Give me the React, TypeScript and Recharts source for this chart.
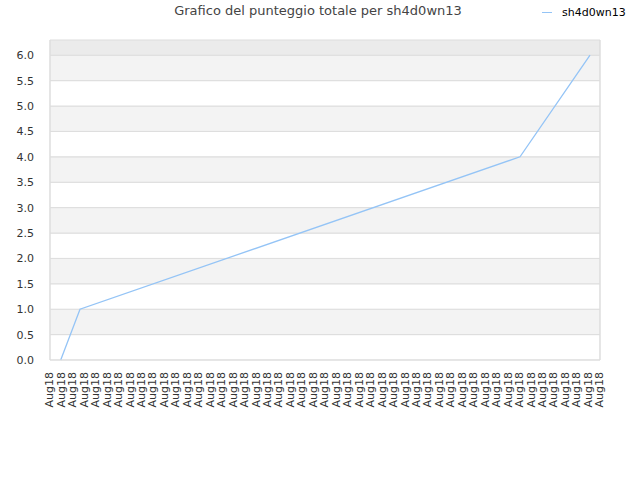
import React from 'react';
import { LineChart, Line, XAxis, YAxis, ReferenceArea } from 'recharts';

const title = 'Grafico del punteggio totale per sh4d0wn13';
const seriesName = 'sh4d0wn13';
const xPositions = [0.934, 2.618, 41.02, 47.13];
const scores = [0, 1, 4, 6];
const xTickLabels = Array.from({ length: 49 }, () => 'Aug18');
const yTicks = [0, 0.5, 1, 1.5, 2, 2.5, 3, 3.5, 4, 4.5, 5, 5.5, 6];
const yMax = 6.3;

const data = xPositions.map((x, i) => ({ x, score: scores[i] }));
const xTicks = xTickLabels.map((_, i) => i);

const FONT = 'DejaVu Sans';
const LINE_COLOR = '#94c4f6';

const XTick = (props: any) => {
  const { x, y, payload } = props;
  return (
    <text
      x={x}
      y={y + 4}
      transform={`rotate(-90 ${x} ${y + 4})`}
      textAnchor="end"
      dy="0.3em"
      fontSize={11}
      fontFamily={FONT}
      fill="#333"
    >
      {xTickLabels[payload.value]}
    </text>
  );
};

export default function App() {
  const bands = yTicks.slice(0, -1).map((v, i) => ({ y1: v, y2: yTicks[i + 1], fill: i % 2 === 0 ? '#ffffff' : '#f3f3f3' }));
  bands.push({ y1: yTicks[yTicks.length - 1], y2: yMax, fill: '#ebebeb' });
  return (
    <div style={{ position: 'absolute', left: 0, top: 0, width: 640, height: 480, background: '#fff' }}>
      <div
        style={{
          position: 'absolute',
          left: 0,
          top: 3,
          width: 636,
          textAlign: 'center',
          fontFamily: FONT,
          fontSize: 13,
          color: '#444',
        }}
      >
        {title}
      </div>
      <div
        style={{
          position: 'absolute',
          left: 542,
          top: 6,
          display: 'flex',
          alignItems: 'center',
          fontFamily: FONT,
          fontSize: 11,
          color: '#000',
          zIndex: 2,
        }}
      >
        <span style={{ display: 'inline-block', width: 10, height: 1, background: LINE_COLOR, marginRight: 10 }} />
        <span>{seriesName}</span>
      </div>
      <LineChart width={640} height={480} data={data} margin={{ top: 40, right: 0, left: 0, bottom: 0 }}>
        {bands.map((b, i) => (
          <ReferenceArea key={i} y1={b.y1} y2={b.y2} fill={b.fill} fillOpacity={1} stroke="#dddddd" strokeWidth={1} ifOverflow="visible" />
        ))}
        <XAxis
          dataKey="x"
          type="number"
          domain={[0, xTickLabels.length - 1]}
          ticks={xTicks}
          interval={0}
          height={120}
          tick={<XTick />}
          tickLine={false}
          axisLine={{ stroke: '#dddddd' }}
        />
        <YAxis
          domain={[0, yMax]}
          ticks={yTicks}
          width={50}
          tickLine={false}
          axisLine={{ stroke: '#dddddd' }}
          tickFormatter={(v: number) => v.toFixed(1)}
          tick={{ fontSize: 11, fontFamily: FONT, fill: '#333' }}
          tickMargin={10}
        />
        <YAxis yAxisId="right" orientation="right" width={40} tick={false} tickLine={false} axisLine={{ stroke: '#dddddd' }} />
        <Line
          dataKey="score"
          name={seriesName}
          stroke={LINE_COLOR}
          strokeWidth={1.3}
          dot={false}
          isAnimationActive={false}
        />
      </LineChart>
    </div>
  );
}
